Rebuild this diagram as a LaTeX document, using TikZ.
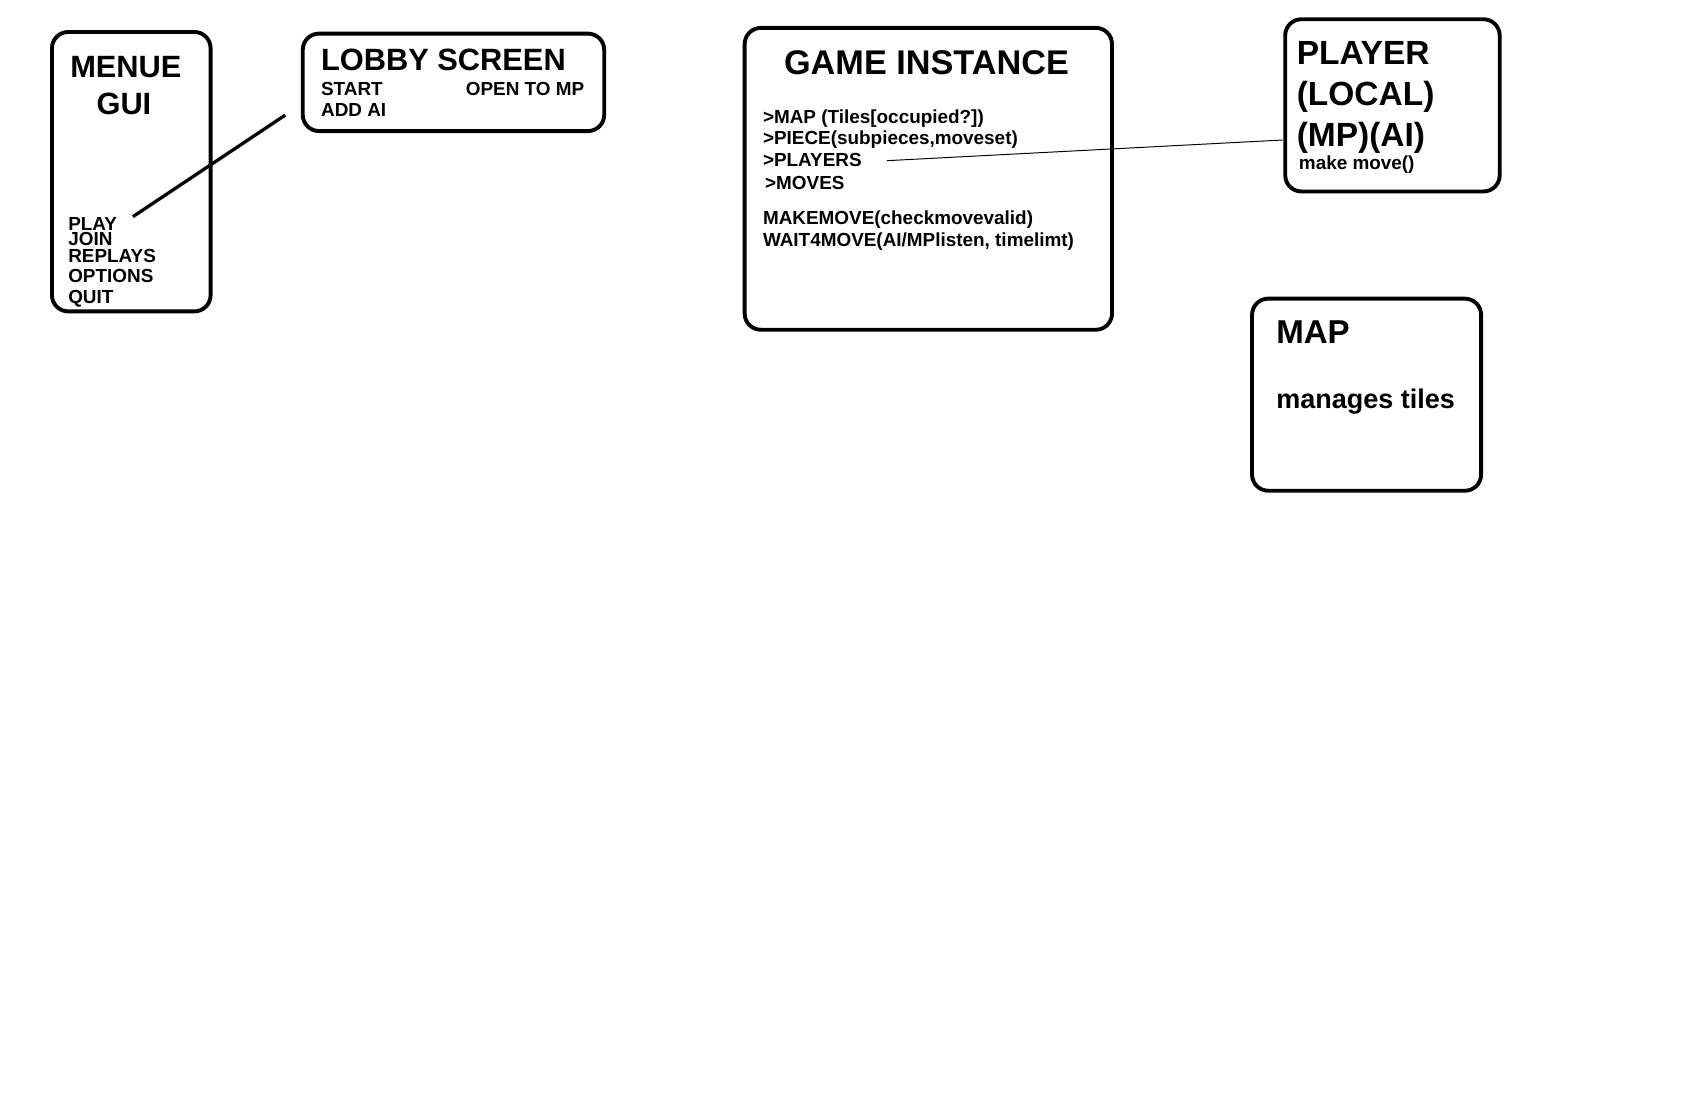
\documentclass[tikz,border=0pt]{standalone}
\usepackage{fontspec}
\setmainfont{Liberation Sans}
\begin{document}
\begin{tikzpicture}[x=1pt,y=-1pt,
  box/.style={draw=black,line width=3.6pt,rounded corners=15pt,anchor=north west,inner sep=0pt},
  txt/.style={inner sep=0pt,anchor=base west,font=\bfseries\fontsize{17.5}{18}\selectfont},
  title/.style={inner sep=0pt,anchor=base west,font=\bfseries\fontsize{29}{30}\selectfont},
  thickline/.style={line width=3pt},
  thinline/.style={line width=0.9pt}]
\useasboundingbox[fill=white] (0,0) rectangle (1566,1029);
% boxes
\node[box,minimum width=146.8pt,minimum height=258.6pt] (menu) at (46.3,27.8) {};
\node[box,minimum width=279pt,minimum height=90.2pt] (lobby) at (278.4,29.3) {};
\node[box,minimum width=340pt,minimum height=279.4pt] (game) at (687.4,24) {};
\node[box,minimum width=198.5pt,minimum height=159.4pt] (player) at (1187.7,16) {};
\node[box,minimum width=212pt,minimum height=177.8pt] (map) at (1157,274.6) {};
% menu texts
\node[title,anchor=base,font=\bfseries\fontsize{28.5}{30}\selectfont] (menut1) at (116.5,72) {MENUE};
\node[title,anchor=base,font=\bfseries\fontsize{28.5}{30}\selectfont] (menut2) at (114.7,106) {GUI};
\node[txt] (play) at (63,213) {PLAY};
\node[txt] (join) at (63,227) {JOIN};
\node[txt] (replays) at (63,242.5) {REPLAYS};
\node[txt] (options) at (63,261) {OPTIONS};
\node[txt] (quit) at (63,281) {QUIT};
% lobby texts
\node[title,font=\bfseries\fontsize{28.5}{30}\selectfont] (lobbyt) at (297,65) {LOBBY SCREEN};
\node[txt] (start) at (297,88) {START};
\node[txt] (openmp) at (431,88) {OPEN TO MP};
\node[txt] (addai) at (297,108) {ADD AI};
% game texts
\node[title,font=\bfseries\fontsize{31.7}{32}\selectfont] (gamet) at (725.5,68.5) {GAME INSTANCE};
\node[txt] (gmap) at (706,114) {>MAP (Tiles[occupied?])};
\node[txt] (gpiece) at (706,134) {>PIECE(subpieces,moveset)};
\node[txt] (gplayers) at (706,154) {>PLAYERS};
\node[txt] (gmoves) at (708,175) {>MOVES};
\node[txt] (gmake) at (706,208) {MAKEMOVE(checkmovevalid)};
\node[txt] (gwait) at (706,228) {WAIT4MOVE(AI/MPlisten, timelimt)};
% player texts
\node[title,font=\bfseries\fontsize{31}{32}\selectfont] (pt1) at (1200,60) {PLAYER};
\node[title,font=\bfseries\fontsize{31}{32}\selectfont] (pt2) at (1200,98) {(LOCAL)};
\node[title,font=\bfseries\fontsize{31}{32}\selectfont] (pt3) at (1200,136) {(MP)(AI)};
\node[txt] (pmove) at (1202,157) {make move()};
% map texts
\node[title,font=\bfseries\fontsize{30.6}{32}\selectfont] (mapt) at (1181,317.7) {MAP};
\node[txt,font=\bfseries\fontsize{25}{26}\selectfont] (mapm) at (1181,378) {manages tiles};
% connectors
\coordinate (c1) at (123,200.5);
\coordinate (c2) at (264,106.5);
\coordinate (c3) at (821,148.7);
\coordinate (c4) at (1187,129.6);
\draw[thickline] (c1) -- (c2);
\draw[thinline] (c3) -- (c4);
\end{tikzpicture}
\end{document}
